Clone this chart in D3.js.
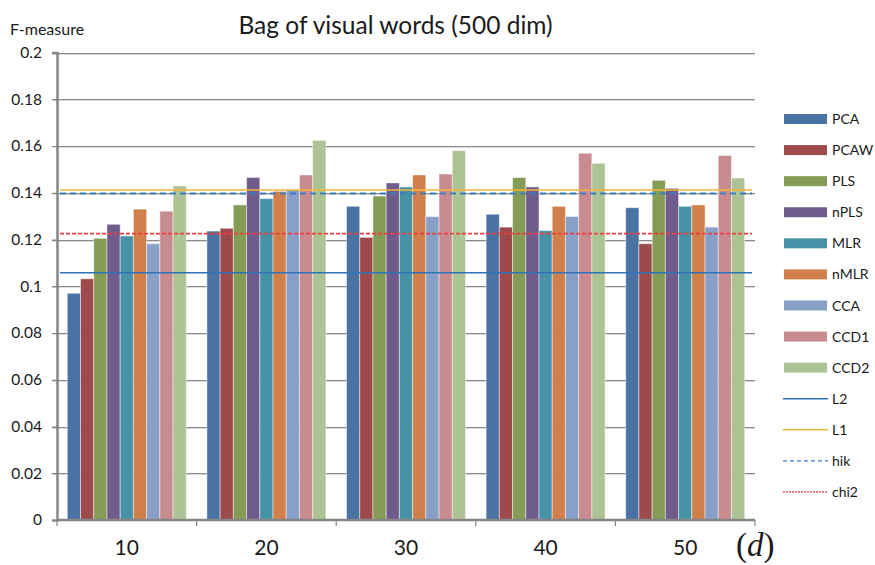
<!DOCTYPE html>
<html>
<head>
<meta charset="utf-8">
<script src="https://cdn.jsdelivr.net/npm/d3@7"></script>
<style>
  html, body { margin: 0; padding: 0; background: #fff; }
  svg { display: block; }
  text { fill: #1a1a1a; }
</style>
</head>
<body>
<svg id="chart" width="875" height="565" font-family="Lato, 'Open Sans', sans-serif"></svg>
<script>
// Dimensions d (groups on the x axis)
const categories = ["10", "20", "30", "40", "50"];

// Projection methods (one bar per method in each group)
const seriesNames = ["PCA", "PCAW", "PLS", "nPLS", "MLR", "nMLR", "CCA", "CCD1", "CCD2"];
const seriesColors = ["#4a72a2", "#9e4a4c", "#859c57", "#705c8c", "#4892a8", "#d1804c", "#889fc7", "#c88b8f", "#aec394"];

// F-measure per method, one value per dimension d = 10..50
const PCA  = [0.097, 0.1236, 0.1342, 0.1308, 0.1336];
const PCAW = [0.1032, 0.1248, 0.1209, 0.1253, 0.1182];
const PLS  = [0.1205, 0.1348, 0.1386, 0.1465, 0.1453];
const nPLS = [0.1265, 0.1465, 0.1442, 0.1425, 0.1419];
const MLR  = [0.1215, 0.1375, 0.1425, 0.1238, 0.1342];
const nMLR = [0.1330, 0.1406, 0.1476, 0.1342, 0.1348];
const CCA  = [0.1182, 0.1413, 0.1298, 0.1298, 0.1253];
const CCD1 = [0.1321, 0.1476, 0.1480, 0.1569, 0.1559];
const CCD2 = [0.1429, 0.1624, 0.1580, 0.1526, 0.1463];
const seriesValues = [PCA, PCAW, PLS, nPLS, MLR, nMLR, CCA, CCD1, CCD2];

// Baseline kernels (constant over d)
const baselineNames  = ["L2", "L1", "hik", "chi2"];
const baselineValues = [0.1058, 0.1412, 0.1397, 0.1225];

// Y axis ticks
const yTicks = [0, 0.02, 0.04, 0.06, 0.08, 0.1, 0.12, 0.14, 0.16, 0.18, 0.2];
const yTickLabels = ["0", "0.02", "0.04", "0.06", "0.08", "0.1", "0.12", "0.14", "0.16", "0.18", "0.2"];

const baselineStyles = {
  L2:   { color: "#2e73b8", width: 1.6, dash: null },
  L1:   { color: "#f2b53c", width: 1.6, dash: null },
  hik:  { color: "#3b7cc2", width: 2,   dash: "6,4" },
  chi2: { color: "#ee3f3f", width: 1.6, dash: "4,2" }
};

const svg = d3.select("#chart");
const plot = { left: 57, right: 755, top: 52.5, bottom: 520 };

svg.append("rect").attr("width", 875).attr("height", 565).attr("fill", "#fff");

const y = d3.scaleLinear().domain([0, 0.2]).range([plot.bottom, plot.top]);
const x0 = d3.scaleBand().domain(categories).range([plot.left, plot.right]).paddingInner(0).paddingOuter(0);
const x1 = d3.scaleBand().domain(seriesNames).range([0, x0.bandwidth()]).paddingInner(0).paddingOuter(0.78);

// Gridlines with a faint shadow line underneath
const grid = svg.append("g");
yTicks.filter(t => t > 0).forEach(t => {
  grid.append("line")
    .attr("x1", plot.left - 5).attr("x2", plot.right)
    .attr("y1", Math.round(y(t)) + 1.5).attr("y2", Math.round(y(t)) + 1.5)
    .attr("stroke", "#dcdcdc").attr("stroke-width", 1);
  grid.append("line")
    .attr("x1", plot.left - 5).attr("x2", plot.right)
    .attr("y1", Math.round(y(t)) + 0.5).attr("y2", Math.round(y(t)) + 0.5)
    .attr("stroke", "#8a8a8a").attr("stroke-width", 1);
});

// Bars
const groups = svg.append("g").selectAll("g")
  .data(categories)
  .join("g")
  .attr("transform", d => `translate(${x0(d)},0)`);

groups.selectAll("rect")
  .data((c, ci) => seriesNames.map((s, si) => ({ s, si, v: seriesValues[si][ci] })))
  .join("rect")
  .attr("x", d => x1(d.s))
  .attr("y", d => y(d.v))
  .attr("width", x1.bandwidth())
  .attr("height", d => y(0) - y(d.v))
  .attr("fill", d => seriesColors[d.si])
  .attr("stroke", "rgba(255,255,255,0.45)")
  .attr("stroke-width", 1);

// Baseline kernel lines
const refG = svg.append("g");
baselineNames.forEach((name, i) => {
  const st = baselineStyles[name];
  refG.append("line")
    .attr("x1", plot.left + 3).attr("x2", plot.right - 3)
    .attr("y1", y(baselineValues[i])).attr("y2", y(baselineValues[i]))
    .attr("stroke", st.color).attr("stroke-width", st.width)
    .attr("stroke-dasharray", st.dash);
});

// Y axis
const yAxis = d3.axisLeft(y).tickValues(yTicks)
  .tickFormat((d, i) => yTickLabels[i]).tickSize(5).tickPadding(10);
const yg = svg.append("g").attr("transform", `translate(${plot.left},0)`).call(yAxis);
yg.attr("font-family", null).attr("font-size", null);
yg.select(".domain").attr("stroke", "#868686").attr("stroke-width", 2.5);
yg.selectAll(".tick line").attr("stroke", "#868686");
yg.selectAll(".tick text").attr("font-size", 15.5).attr("fill", "#1a1a1a");

// X axis with ticks on group boundaries
const xg = svg.append("g");
xg.append("line").attr("x1", plot.left).attr("x2", plot.right)
  .attr("y1", plot.bottom).attr("y2", plot.bottom)
  .attr("stroke", "#868686").attr("stroke-width", 2.5);
categories.concat(["end"]).forEach((c, i) => {
  const xx = plot.left + i * x0.step();
  xg.append("line").attr("x1", xx).attr("x2", xx)
    .attr("y1", plot.bottom).attr("y2", plot.bottom + 6)
    .attr("stroke", "#868686").attr("stroke-width", 1.2);
});
xg.selectAll("text.cat")
  .data(categories)
  .join("text")
  .attr("class", "cat")
  .attr("x", d => x0(d) + x0.bandwidth() / 2)
  .attr("y", 555)
  .attr("text-anchor", "middle")
  .attr("font-size", 21)
  .text(d => d);

// "(d)" axis label: upright serif parentheses around an italic d
const dl = svg.append("text").attr("x", 736).attr("y", 556)
  .attr("font-family", "'Liberation Serif', 'DejaVu Serif', serif").attr("font-size", 33);
dl.append("tspan").text("(");
dl.append("tspan").attr("font-style", "italic").text("d");
dl.append("tspan").text(")");

// Title and y label
svg.append("text").attr("x", 395.5).attr("y", 34).attr("text-anchor", "middle")
  .attr("font-size", 24.5).text("Bag of visual words (500 dim)");
svg.append("text").attr("x", 10).attr("y", 35).attr("font-size", 16).text("F-measure");

// Legend
const legend = svg.append("g");
const rowY = i => 119 + i * 31.08;
seriesNames.forEach((s, i) => {
  legend.append("rect").attr("x", 784).attr("y", rowY(i) - 5).attr("width", 43).attr("height", 10)
    .attr("fill", seriesColors[i]);
  legend.append("text").attr("x", 832).attr("y", rowY(i)).attr("dy", "0.36em")
    .attr("font-size", 14).text(s);
});
baselineNames.forEach((name, j) => {
  const i = seriesNames.length + j;
  const st = baselineStyles[name];
  legend.append("line").attr("x1", 783).attr("x2", 828).attr("y1", rowY(i)).attr("y2", rowY(i))
    .attr("stroke", st.color).attr("stroke-width", name === "hik" || name === "chi2" ? 1.3 : 1.6)
    .attr("stroke-dasharray", name === "hik" ? "4,3" : (name === "chi2" ? "2,1" : null));
  legend.append("text").attr("x", 832).attr("y", rowY(i)).attr("dy", "0.36em")
    .attr("font-size", 14).text(name);
});
</script>
</body>
</html>
